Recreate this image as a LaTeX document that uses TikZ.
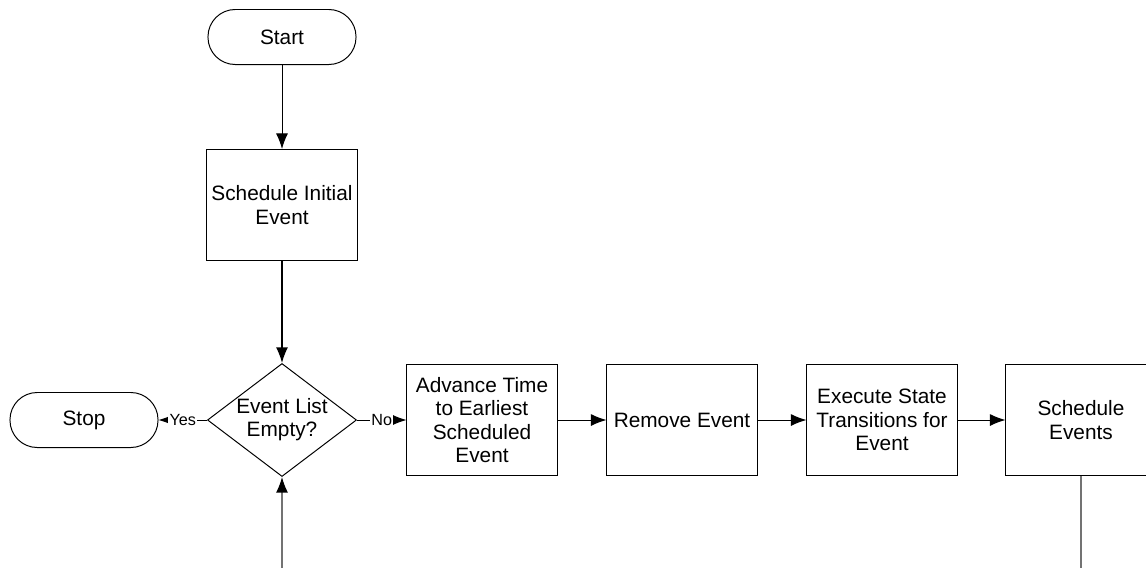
\documentclass[tikz,border=0pt]{standalone}
\usepackage{fontspec}
\setmainfont{Liberation Sans}
\usetikzlibrary{arrows.meta, shapes.geometric}

\begin{document}
\begin{tikzpicture}[x=0.025cm, y=-0.025cm,
		every node/.style={font=\fontsize{14.8}{16.5}\selectfont, line width=0.7pt},
		terminal/.style={draw, rounded corners=0.68cm, minimum width=3.7cm, minimum height=1.375cm, align=center},
		process/.style={draw, minimum width=3.75cm, minimum height=2.775cm, align=center},
		decision/.style={draw, diamond, aspect=1.32, inner sep=0pt, minimum width=3.725cm, minimum height=2.825cm, align=center},
		flow/.style={line width=0.7pt, ->},
		answer/.style={fill=white, inner sep=1pt, font=\fontsize{11.5}{13}\selectfont},
		cutline/.style={black!55, line width=0.9pt},
		>={Latex[length=3.9mm, width=3mm]}]

	\clip (0,0) rectangle (1146,567);

	\node[terminal] (start) at (282,37) {Start};
	\node[process] (init) at (282,205) {Schedule Initial\\Event};
	\node[decision] (empty) at (282,420) {Event List\\Empty?};
	\node[terminal] (stop) at (84,420) {Stop};

	\node[process] (advance) at (482,420) {Advance Time\\to Earliest\\Scheduled\\Event};
	\node[process] (remove) at (682,420) {Remove Event};
	\node[process] (execute) at (882,420) {Execute State\\Transitions for\\Event};
	\node[process] (sched) at (1081,420) {Schedule\\Events};

	\draw[flow] (start) -- (init);
	\draw[flow, line width=1pt] (init) -- (empty);
	\draw[flow] (empty) -- node[answer] {Yes} (stop);
	\draw[flow] (empty) -- node[answer] {No} (advance);
	\draw[flow] (advance) -- (remove);
	\draw[flow] (remove) -- (execute);
	\draw[flow] (execute) -- (sched);

	% return lines, cut off by the border
	\path (empty.south) ++(0,92) coordinate (loopin);
	\path (sched.south) ++(0,92) coordinate (loopout);
	\draw[cutline, -{Latex[length=3.9mm, width=3mm, black]}] (loopin) -- (empty);
	\draw[cutline] (sched) -- (loopout);
\end{tikzpicture}
\end{document}
